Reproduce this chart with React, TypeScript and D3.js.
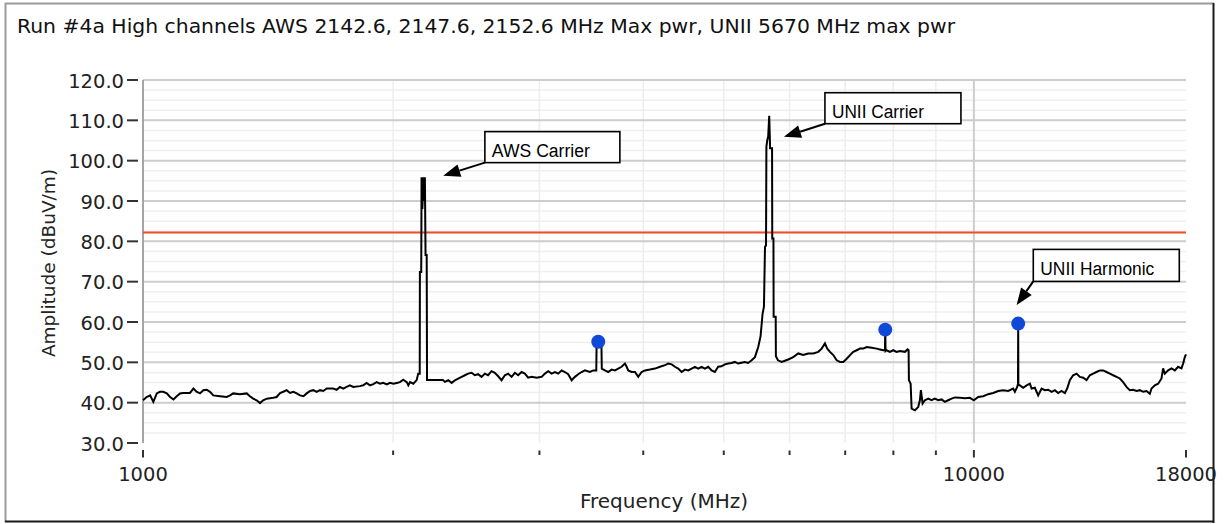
import React from "react";
import * as d3 from "d3";

const titleText =
  "Run #4a High channels AWS 2142.6, 2147.6, 2152.6 MHz Max pwr, UNII 5670 MHz max pwr";
const xAxisTitle = "Frequency (MHz)";
const yAxisTitle = "Amplitude (dBuV/m)";
const xLabeledTicks = [1000, 10000, 18000];
const xMinorTicks = [2000, 3000, 4000, 5000, 6000, 7000, 8000, 9000];
const yTicks = [30, 40, 50, 60, 70, 80, 90, 100, 110, 120];
const limitValue = 82.2;

const traceFreq = [
  1000, 1010, 1020, 1029, 1039, 1048, 1058, 1068, 1078, 1088, 1098, 1108, 1118, 1139, 1150, 1160,
  1171, 1182, 1193, 1204, 1215, 1238, 1261, 1273, 1284, 1308, 1333, 1345, 1357, 1370, 1383, 1395,
  1409, 1435, 1448, 1462, 1475, 1489, 1503, 1517, 1531, 1545, 1560, 1574, 1589, 1603, 1618, 1633,
  1648, 1664, 1694, 1710, 1726, 1742, 1758, 1774, 1791, 1824, 1841, 1858, 1876, 1893, 1911, 1929,
  1946, 1965, 1983, 2001, 2020, 2038, 2057, 2077, 2086, 2096, 2115, 2135, 2144, 2153, 2154, 2162,
  2164, 2169, 2174, 2180, 2184, 2188, 2195, 2197, 2296,
  2309, 2330, 2352, 2374, 2395, 2418, 2440, 2462, 2486, 2508, 2531, 2555, 2579, 2602, 2627, 2651,
  2676, 2701, 2726, 2751, 2777, 2803, 2828, 2855, 2881, 2908, 2935, 2977, 3018, 3046, 3074, 3103,
  3132, 3160, 3190, 3219, 3249, 3280, 3310, 3340, 3372, 3403, 3450, 3482, 3505, 3512, 3515, 3562,
  3566, 3597, 3630, 3664, 3698, 3732, 3767, 3802, 3820, 3837, 3873, 3909, 3945, 3982, 4019, 4075,
  4132, 4190, 4248, 4287, 4328, 4367, 4407, 4449, 4490, 4531, 4574, 4616, 4658, 4702, 4745, 4789,
  4834, 4878, 4923, 4969, 5015, 5061, 5109, 5156, 5203, 5252, 5300, 5349,
  5402, 5451, 5501, 5537, 5568, 5589, 5605, 5621, 5627, 5640, 5655, 5671, 5685, 5716, 5719, 5738,
  5741, 5774, 5777, 5810, 5869, 5923, 5977, 6061, 6146, 6232, 6319, 6408, 6497, 6558, 6618, 6661,
  6711, 6773, 6837, 6900, 6963, 7029, 7094, 7159, 7227, 7293, 7360, 7430, 7533, 7638, 7708, 7779,
  7815, 7822, 7829, 7852, 7924, 7996, 8072, 8146, 8260, 8322, 8345, 8352, 8392, 8415, 8492, 8570,
  8610, 8634, 8675, 8730, 8810, 8893, 8974, 9058, 9143, 9227, 9311, 9400, 9487, 9620, 9754, 9890,
  9999, 10120, 10261, 10404, 10549, 10697, 10846, 10997, 11150, 11203, 11275, 11300, 11306, 11312,
  11360, 11464, 11573, 11679, 11734, 11841, 11950, 12063, 12174, 12285, 12402, 12516, 12631, 12750,
  12867, 12949, 13046, 13166, 13291, 13413, 13536, 13664, 13789, 13916, 14047, 14177, 14307, 14442,
  14575, 14709, 14848, 14984, 15122, 15265, 15405, 15547, 15694, 15838, 15983, 16135, 16283, 16360,
  16510, 16662, 16819, 16894, 16974, 17130, 17292, 17451, 17611, 17777, 17857, 17941, 18000,
];

const traceAmp = [
  40.6, 41.4, 41.8, 40.2, 42.3, 42.7, 42.7, 42.3, 41.4, 40.8, 41.6, 42.3, 42.4, 42.4, 43.5, 42.7,
  42.3, 43.1, 43.2, 42.7, 41.8, 41.6, 41.4, 41.8, 42.3, 42.1, 42.3, 41.6, 41.0, 40.6, 39.9, 40.6,
  41.0, 41.2, 41.4, 42.4, 42.7, 43.1, 42.4, 42.7, 42.3, 41.8, 41.6, 42.3, 42.9, 43.1, 42.7, 43.1,
  42.9, 43.5, 43.5, 43.2, 43.9, 43.5, 43.9, 44.3, 43.9, 44.1, 44.3, 44.9, 44.3, 44.6, 45.1, 44.7,
  44.9, 44.5, 44.9, 44.7, 44.9, 45.1, 45.7, 45.1, 44.3, 45.1, 44.7, 45.6, 47.2, 47.2, 72.4, 72.4,
  95.9, 88.0, 95.9, 90.0, 95.9, 76.6, 76.6, 45.6, 45.6,
  45.15, 45.56, 44.9, 45.56, 45.97, 46.4, 46.8, 47.2, 47.4, 46.8, 47.05, 46.4, 47.2, 46.8, 47.8, 47.4,
  46.55, 45.56, 46.8, 47.2, 46.4, 47.4, 46.8, 47.6, 47.2, 46.2, 46.4, 46.2, 46.4, 47.2, 47.8, 47.2,
  47.6, 47.2, 48.0, 47.6, 47.05, 45.56, 46.4, 47.05, 47.6, 48.0, 47.6, 48.0, 48.0, 48.0, 55.1, 54.9,
  48.45, 48.0, 47.6, 48.2, 48.0, 48.45, 48.9, 49.7, 48.9, 48.0, 47.6, 47.6, 46.4, 47.6, 48.0, 48.2,
  48.45, 48.9, 49.3, 49.7, 49.5, 48.9, 48.45, 47.6, 48.2, 48.0, 48.45, 48.9, 48.45, 48.9, 48.45, 48.9,
  48.0, 47.6, 48.9, 49.0, 49.5, 49.7, 49.85, 50.1, 49.7, 49.9, 50.1, 49.85,
  50.5, 51.3, 53.8, 56.5, 62.1, 63.8, 78.6, 79.0, 103.5, 105.0, 106.0, 111.1, 103.1, 103.1, 80.7, 80.7,
  61.3, 61.3, 51.5, 50.5, 50.1, 50.4, 50.7, 51.3, 52.2, 51.8, 52.2, 52.2, 52.6, 53.4, 54.7, 53.4,
  52.6, 51.8, 50.5, 50.1, 50.1, 50.9, 51.8, 52.6, 53.0, 53.4, 53.4, 53.8, 53.6, 53.4, 53.2, 53.0,
  53.0, 58.1, 52.8, 53.0, 52.6, 53.0, 52.6, 52.8, 52.6, 53.2, 53.0, 45.6, 44.7, 38.5, 38.1, 38.9,
  40.6, 43.1, 39.8, 40.6, 41.0, 40.6, 41.0, 40.6, 40.8, 40.2, 40.6, 41.0, 41.3, 41.2, 41.1, 41.2,
  40.6, 41.4, 41.6, 42.1, 42.4, 42.9, 43.1, 42.9, 43.5, 42.7, 43.9, 44.7, 59.6, 44.5,
  44.3, 43.7, 44.3, 44.7, 43.5, 43.7, 41.8, 43.5, 43.1, 43.2, 42.7, 43.1, 42.4, 42.9,
  42.4, 43.5, 45.6, 46.8, 47.2, 46.4, 46.2, 45.6, 46.8, 47.2, 47.6, 48.0, 48.0, 47.6,
  47.2, 46.8, 46.4, 46.0, 45.1, 43.9, 43.1, 43.2, 42.9, 43.1, 42.7, 42.9, 42.2, 43.5,
  44.3, 44.7, 46.0, 48.5, 47.2, 48.0, 48.5, 48.0, 48.9, 48.5, 49.7, 51.3, 52.0,
];

const markerFreq = [3531, 7822, 11306];
const markerAmp = [55.1, 58.1, 59.6];

const annLabels = ["AWS Carrier", "UNII Carrier", "UNII Harmonic"];
const annTipFreq = [2298, 5907, 11257];
const annTipAmp = [96.25, 105.9, 64.2];
const annBoxFreq = [2579, 6618, 11789];
const annBoxAmp = [107.2, 116.85, 78.0];

// layout / style
const W = 1225;
const H = 524;
const PLOT = { left: 143, right: 1186, top: 80, bottom: 443 };
const annBoxW = [135, 136, 146];
const annBoxH = [31, 31, 32];
const annTextW = [98, 92, 114];
const FONT = "'DejaVu Sans', Verdana, sans-serif";
const ANN_FONT = "'Liberation Sans', Arial, sans-serif";

export default function App() {
  const x = d3.scaleLog().domain([1000, 18000]).range([PLOT.left, PLOT.right]);
  const y = d3.scaleLinear().domain([30, 120]).range([PLOT.bottom, PLOT.top]);
  const fmt = d3.format(".1f");

  const points: [number, number][] = traceFreq.map((f, i) => [f, traceAmp[i]]);
  const line = d3
    .line<[number, number]>()
    .x((d) => x(d[0]))
    .y((d) => y(d[1]));

  const minorY = d3.range(32.5, 120, 2.5).filter((v) => Math.abs(v % 10) > 0.01);
  const majorGridY = yTicks.filter((v) => v > 30);

  return (
    <svg
      width={W}
      height={H}
      viewBox={`0 0 ${W} ${H}`}
      style={{ position: "absolute", left: 0, top: 0, background: "#fff" }}
    >
      <rect x={0} y={0} width={W} height={H} fill="#ffffff" />
      {/* frame */}
      <line x1={5.5} y1={3} x2={5.5} y2={522} stroke="#9a9a9a" strokeWidth={2} />
      <line x1={5} y1={3.5} x2={1214} y2={3.5} stroke="#9a9a9a" strokeWidth={2} />
      <line x1={1213.5} y1={3} x2={1213.5} y2={523} stroke="#1a1a1a" strokeWidth={2} />
      <line x1={5} y1={521.5} x2={1214} y2={521.5} stroke="#1a1a1a" strokeWidth={2} />

      {/* title */}
      <text
        x={17}
        y={33}
        fontFamily={FONT}
        fontSize={19.5}
        fill="#111"
        textLength={938}
        lengthAdjust="spacingAndGlyphs"
      >
        {titleText}
      </text>

      {/* minor grid */}
      {minorY.map((v) => (
        <line key={"my" + v} x1={PLOT.left} x2={PLOT.right} y1={y(v)} y2={y(v)} stroke="#efefef" strokeWidth={1.5} />
      ))}
      {xMinorTicks.map((f) => (
        <line key={"mx" + f} x1={x(f)} x2={x(f)} y1={PLOT.top} y2={PLOT.bottom} stroke="#ededed" strokeWidth={1.5} />
      ))}
      {/* major grid */}
      {majorGridY.map((v) => (
        <line key={"gy" + v} x1={PLOT.left} x2={PLOT.right} y1={y(v)} y2={y(v)} stroke="#cdcdcd" strokeWidth={2} />
      ))}
      <line x1={x(10000)} x2={x(10000)} y1={PLOT.top} y2={PLOT.bottom} stroke="#cdcdcd" strokeWidth={2} />

      {/* y axis line */}
      <line x1={PLOT.left} x2={PLOT.left} y1={PLOT.top} y2={PLOT.bottom} stroke="#a5a5a5" strokeWidth={2} />

      {/* y ticks & labels */}
      {yTicks.map((v) => (
        <g key={"yt" + v}>
          <line x1={127} x2={138} y1={y(v)} y2={y(v)} stroke="#333" strokeWidth={2} />
          <text x={124} y={y(v) + 7.5} textAnchor="end" fontFamily={FONT} fontSize={19.5} fill="#222">
            {fmt(v)}
          </text>
        </g>
      ))}

      {/* x ticks */}
      {xMinorTicks.map((f) => (
        <line key={"xt" + f} x1={x(f)} x2={x(f)} y1={450.5} y2={455} stroke="#333" strokeWidth={2} />
      ))}
      {xLabeledTicks.map((f) => (
        <g key={"xl" + f}>
          <line x1={x(f)} x2={x(f)} y1={450} y2={457.5} stroke="#333" strokeWidth={2} />
          <text x={x(f)} y={481} textAnchor="middle" fontFamily={FONT} fontSize={19.5} fill="#222">
            {String(f)}
          </text>
        </g>
      ))}

      {/* axis titles */}
      <text x={664} y={508} textAnchor="middle" fontFamily={FONT} fontSize={20} fill="#222">
        {xAxisTitle}
      </text>
      <text
        transform={`translate(55,263) rotate(-90)`}
        textAnchor="middle"
        fontFamily={FONT}
        fontSize={18.5}
        fill="#222"
      >
        {yAxisTitle}
      </text>

      {/* limit line */}
      <line
        x1={PLOT.left}
        x2={PLOT.right}
        y1={y(limitValue)}
        y2={y(limitValue)}
        stroke="#f04a2c"
        strokeWidth={2}
      />

      {/* trace */}
      <path d={line(points) || ""} fill="none" stroke="#000" strokeWidth={2} strokeLinejoin="miter" />

      {/* markers */}
      {markerFreq.map((f, i) => (
        <circle key={"mk" + f} cx={x(f)} cy={y(markerAmp[i])} r={7} fill="#1048d8" />
      ))}

      {/* annotations */}
      {annLabels.map((label, i) => {
        const bx = x(annBoxFreq[i]);
        const by = y(annBoxAmp[i]);
        const sx = bx;
        const sy = by + annBoxH[i];
        const tx = x(annTipFreq[i]);
        const ty = y(annTipAmp[i]);
        const ang = Math.atan2(ty - sy, tx - sx);
        const hl = 17;
        const hw = 6.5;
        const baseX = tx - hl * Math.cos(ang);
        const baseY = ty - hl * Math.sin(ang);
        const px = -Math.sin(ang);
        const py = Math.cos(ang);
        const head = `M${tx},${ty} L${baseX + hw * px},${baseY + hw * py} L${baseX - hw * px},${baseY - hw * py} Z`;
        return (
          <g key={"ann" + i}>
            <line x1={sx} y1={sy} x2={baseX} y2={baseY} stroke="#000" strokeWidth={2} />
            <path d={head} fill="#000" />
            <rect x={bx} y={by} width={annBoxW[i]} height={annBoxH[i]} fill="#fff" stroke="#000" strokeWidth={1.6} />
            <text
              x={bx + 7}
              y={by + 25.5}
              fontFamily={ANN_FONT}
              fontSize={18}
              fill="#000"
              textLength={annTextW[i]}
              lengthAdjust="spacingAndGlyphs"
            >
              {label}
            </text>
          </g>
        );
      })}
    </svg>
  );
}
